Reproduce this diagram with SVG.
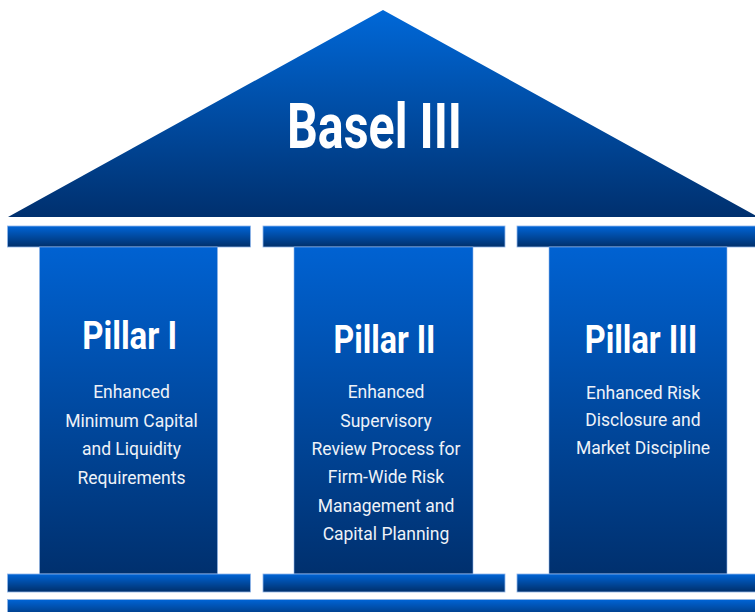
<svg xmlns="http://www.w3.org/2000/svg" width="755" height="612" viewBox="0 0 755 612">
<defs>
<linearGradient id="gRoof" x1="0" y1="0" x2="0" y2="1"><stop offset="0" stop-color="#0068d8"/><stop offset="1" stop-color="#00306e"/></linearGradient>
<linearGradient id="gCap" x1="0" y1="0" x2="0" y2="1"><stop offset="0" stop-color="#0064d6"/><stop offset="1" stop-color="#002f6a"/></linearGradient>
<linearGradient id="gShaft" x1="0" y1="0" x2="0" y2="1"><stop offset="0" stop-color="#0062d2"/><stop offset="1" stop-color="#00306e"/></linearGradient>
<style>
.cap{fill:url(#gCap);stroke:#8fb6ea;stroke-width:0.8}
.shaft{fill:url(#gShaft);stroke:#8fb6ea;stroke-width:0.6}
.title{font-family:Roboto,"Liberation Sans",sans-serif;font-weight:bold;fill:#ffffff;text-anchor:middle}
.body{font-family:Roboto,"Liberation Sans",sans-serif;font-size:17.5px;fill:#eef2f8;text-anchor:middle}
</style>
</defs>
<rect width="755" height="612" fill="#ffffff"/>
<g id="roof">
<polygon points="8,217 383,10 758,217" fill="url(#gRoof)"/>
<text class="title" x="374.5" y="148" font-size="63" textLength="175" lengthAdjust="spacingAndGlyphs">Basel III</text>
</g>
<g id="pillar1">
<rect class="cap" x="7.5" y="226" width="243" height="21"/>
<rect class="shaft" x="39.5" y="247" width="178" height="327"/>
<rect class="cap" x="7.5" y="574" width="243" height="18"/>
<text class="title" x="129.7" y="349" font-size="39" textLength="95" lengthAdjust="spacingAndGlyphs">Pillar I</text>
<text class="body" x="131.5" y="398">Enhanced</text>
<text class="body" x="131.5" y="426.5">Minimum Capital</text>
<text class="body" x="131.5" y="455">and Liquidity</text>
<text class="body" x="131.5" y="483.5">Requirements</text>
</g>
<g id="pillar2">
<rect class="cap" x="263" y="226" width="242" height="21"/>
<rect class="shaft" x="294" y="247" width="179" height="327"/>
<rect class="cap" x="263" y="574" width="242" height="18"/>
<text class="title" x="384.5" y="352.7" font-size="39" textLength="102" lengthAdjust="spacingAndGlyphs">Pillar II</text>
<text class="body" x="386" y="398.3">Enhanced</text>
<text class="body" x="386" y="426.7">Supervisory</text>
<text class="body" x="386" y="455">Review Process for</text>
<text class="body" x="386" y="483.3">Firm-Wide Risk</text>
<text class="body" x="386" y="511.7">Management and</text>
<text class="body" x="386" y="540">Capital Planning</text>
</g>
<g id="pillar3">
<rect class="cap" x="517" y="226" width="245" height="21"/>
<rect class="shaft" x="549" y="247" width="178" height="327"/>
<rect class="cap" x="517" y="574" width="245" height="18"/>
<text class="title" x="641" y="352.8" font-size="39" textLength="112.6" lengthAdjust="spacingAndGlyphs">Pillar III</text>
<text class="body" x="643" y="398.6">Enhanced Risk</text>
<text class="body" x="643" y="426.3">Disclosure and</text>
<text class="body" x="643" y="454.3">Market Discipline</text>
</g>
<g id="base">
<rect class="cap" x="7.5" y="599.5" width="755" height="20"/>
</g>
<g id="connectors"/>
</svg>
